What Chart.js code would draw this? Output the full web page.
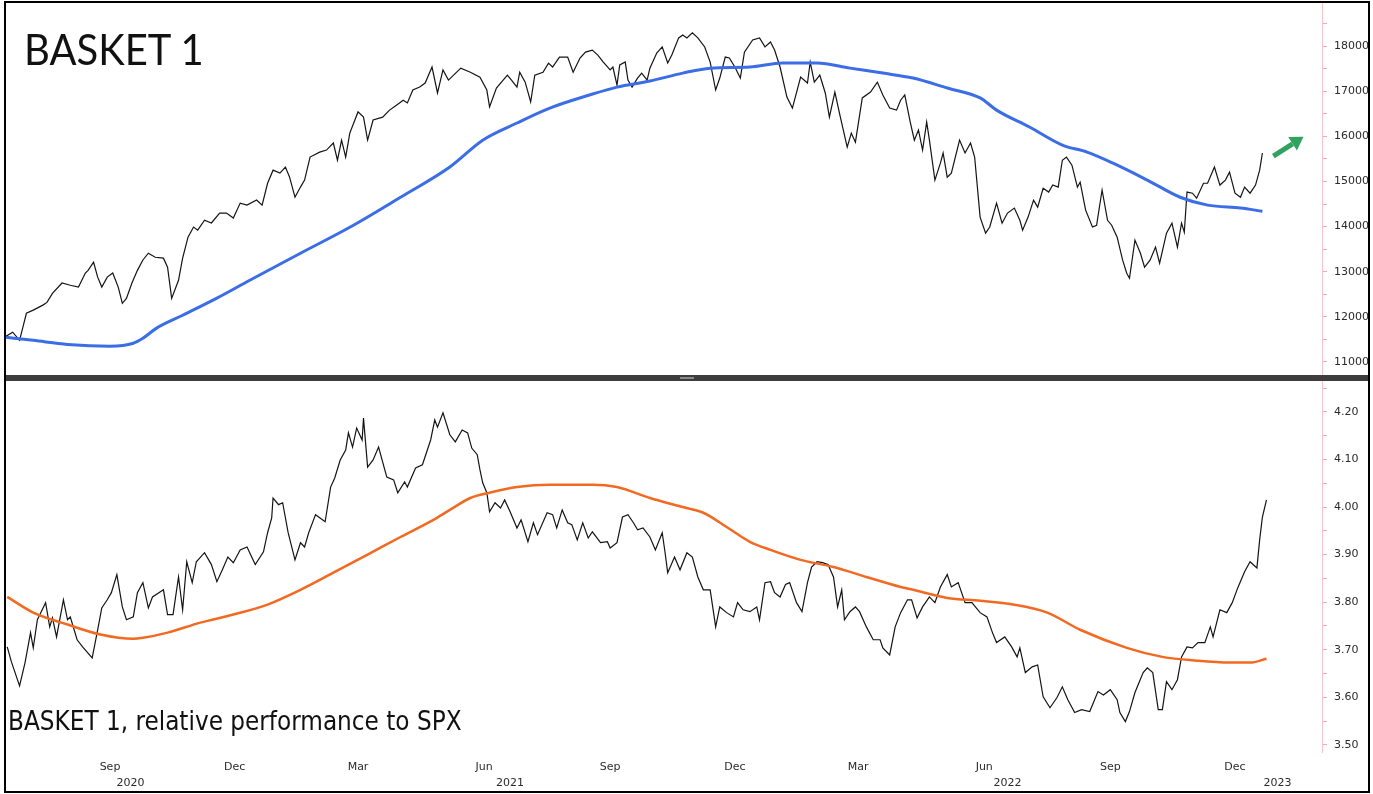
<!DOCTYPE html>
<html>
<head>
<meta charset="utf-8">
<script src="https://cdn.jsdelivr.net/npm/chart.js@4.4.1/dist/chart.umd.min.js"></script>
<style>
  html, body { margin: 0; padding: 0; background: #fff; }
  body { position: relative; width: 1373px; height: 794px; overflow: hidden; }
  .frame { position: absolute; left: 4px; top: 1px; width: 1362px; height: 788px; border: 2px solid #000; }
  .pane { position: absolute; left: 6px; width: 1362px; }
  #topPane { top: 3px; height: 372px; }
  #botPane { top: 381px; height: 410px; }
  .split { position: absolute; left: 6px; top: 375px; width: 1362px; height: 6px; background: #3d3d3d; }
  .grip { position: absolute; left: 680px; top: 377px; width: 14px; height: 2px; background: #8a8a8a; }
  .title { position: absolute; left: 24px; top: 23px; font-family: Lato, "Open Sans", sans-serif; font-size: 43px; color: #111; white-space: nowrap; transform: scaleX(0.93); transform-origin: left top; }
  .note { position: absolute; left: 8px; top: 706px; font-family: "DejaVu Sans Condensed", "DejaVu Sans", sans-serif; font-size: 25.8px; color: #111; white-space: nowrap; }
</style>
</head>
<body>
<div class="frame"></div>
<div class="pane" id="topPane"><canvas id="chart-top"></canvas></div>
<div class="split"></div>
<div class="grip"></div>
<div class="pane" id="botPane"><canvas id="chart-bottom"></canvas></div>
<div class="title">BASKET 1</div>
<div class="note">BASKET 1, relative performance to SPX</div>
<script>
// x values are days since 2020-09-01
const basketDays = [-77,-71,-66,-61,-56,-49,-46,-42,-35,-29,-23,-18,-16,-12,-9,-6,-2,2,6,9,12,16,20,24,28,33,39,42,45,50,53,57,61,64,69,74,80,85,90,95,100,107,111,115,119,124,128,131,135,139,142,146,153,158,163,166,169,172,175,181,185,188,192,199,204,209,214,217,221,226,230,235,239,243,247,256,263,270,275,277,282,290,293,297,299,303,307,310,316,320,323,328,334,338,343,347,352,356,360,365,367,370,372,376,378,381,385,388,392,394,399,403,407,410,415,418,421,425,429,434,438,442,445,449,452,456,460,463,469,474,478,482,485,489,494,498,504,509,511,514,518,522,525,529,533,538,541,544,549,555,560,564,569,574,577,580,584,587,590,593,596,598,602,606,608,611,614,620,624,628,631,635,639,642,647,651,655,660,664,666,670,674,677,681,685,688,692,695,698,702,706,708,712,717,720,724,728,731,735,739,742,744,748,752,755,759,763,766,771,775,779,782,784,786,790,793,798,801,806,810,814,817,821,825,828,832,836,839,841];
const basketValues = [11550,11660,11480,12080,12150,12260,12320,12520,12750,12700,12660,12970,13030,13210,12880,12660,12880,12970,12660,12300,12410,12750,13030,13260,13410,13320,13300,13100,12410,12810,13300,13770,13990,13920,14140,14080,14300,14300,14190,14520,14475,14590,14475,14960,15250,15185,15320,15100,14650,14875,15030,15540,15650,15695,15850,15470,15915,15540,16070,16540,16425,15915,16360,16425,16580,16690,16800,16740,17025,17090,17180,17535,16960,17470,17245,17510,17420,17310,17025,16650,17070,17355,17245,17090,17420,17200,16760,17355,17420,17620,17535,17755,17755,17420,17735,17865,17910,17800,17645,17470,17535,17135,17580,17645,17245,17090,17290,17400,17245,17510,17845,17980,17625,17800,18180,18245,18180,18290,18180,17980,17645,17025,17290,17755,17735,17535,17290,17865,18135,18180,17980,18090,17910,17535,16870,16625,17310,17180,17645,17200,17355,16960,16425,16980,16425,15760,16070,15870,16850,16980,17200,16915,16625,16580,16800,16915,16315,15915,16140,15695,16315,15915,15030,15405,15630,15095,15185,15915,15630,15850,15540,14210,13855,13990,14520,14075,14300,14410,14140,13920,14210,14585,14430,14850,14765,14920,14875,15470,15540,15360,14875,14985,14365,13990,14030,14810,14140,14030,13765,13255,12965,12855,13700,13410,13100,13255,13545,13190,13855,14075,13545,14075,13875,14765,14740,14630,14960,14960,15320,14920,15030,15205,14740,14650,14875,14740,14920,15250,15630];

const basketMaDays = [-77,-56,-31,0,17,24,34,53,78,102,139,175,212,248,272,297,321,350,370,394,418,438,467,491,516,540,564,586,611,635,647,671,695,713,732,757,781,801,825,841];
const basketMaValues = [11550,11480,11390,11350,11415,11525,11750,12035,12415,12810,13410,13985,14650,15320,15915,16295,16625,16915,17090,17225,17400,17510,17535,17625,17625,17510,17400,17290,17070,16850,16580,16205,15805,15650,15405,15030,14650,14475,14410,14340];

const relDays = [-75,-72,-66,-62,-58,-56,-53,-47,-44,-42,-39,-34,-31,-29,-24,-20,-13,-9,-6,-2,1,5,9,12,17,20,24,28,31,39,42,46,50,53,56,60,63,69,74,78,82,86,90,95,100,106,112,115,118,119,123,126,130,135,139,142,145,150,157,161,164,168,172,174,177,180,184,185,188,192,196,202,207,210,215,217,223,228,234,237,239,243,248,252,257,261,264,268,270,272,275,277,281,285,288,292,297,300,305,309,312,319,323,326,330,334,337,341,345,349,352,358,363,365,370,374,378,382,385,389,394,398,403,405,407,412,416,421,425,429,433,438,442,445,450,455,458,462,467,472,474,478,482,485,489,493,496,501,505,509,512,516,520,524,528,531,534,536,540,544,547,552,557,562,564,569,573,577,582,585,589,593,598,602,606,611,614,619,624,629,635,640,644,647,653,658,662,664,668,673,677,681,686,691,695,699,704,709,715,721,725,730,735,737,741,744,748,754,757,761,765,768,771,775,779,782,786,790,794,799,803,805,810,815,819,823,828,832,837,839,841,844];
const relValues = [3.706,3.675,3.624,3.673,3.736,3.704,3.763,3.799,3.748,3.767,3.727,3.805,3.763,3.769,3.721,3.706,3.683,3.742,3.788,3.805,3.820,3.858,3.790,3.763,3.769,3.820,3.841,3.788,3.811,3.826,3.774,3.774,3.853,3.784,3.885,3.841,3.885,3.904,3.879,3.843,3.868,3.895,3.883,3.910,3.916,3.879,3.906,3.946,3.977,4.019,4.005,4.009,3.946,3.889,3.925,3.916,3.946,3.984,3.969,4.042,4.061,4.099,4.120,4.156,4.126,4.166,4.141,4.187,4.084,4.099,4.126,4.063,4.057,4.030,4.053,4.042,4.082,4.089,4.141,4.183,4.168,4.198,4.152,4.137,4.162,4.156,4.124,4.110,4.078,4.051,4.030,3.990,4.009,3.998,4.015,3.990,3.956,3.973,3.927,3.967,3.942,3.988,3.984,3.956,3.994,3.967,3.963,3.931,3.967,3.935,3.948,3.925,3.927,3.914,3.925,3.979,3.984,3.967,3.952,3.956,3.937,3.910,3.946,3.906,3.862,3.895,3.868,3.904,3.895,3.853,3.826,3.826,3.748,3.790,3.778,3.769,3.799,3.784,3.780,3.790,3.763,3.841,3.843,3.820,3.811,3.837,3.841,3.799,3.780,3.841,3.874,3.885,3.883,3.879,3.853,3.790,3.826,3.763,3.780,3.790,3.780,3.748,3.721,3.721,3.704,3.689,3.748,3.778,3.805,3.805,3.767,3.790,3.811,3.799,3.832,3.858,3.832,3.841,3.799,3.799,3.778,3.769,3.736,3.715,3.727,3.706,3.685,3.704,3.652,3.664,3.668,3.601,3.578,3.599,3.622,3.595,3.568,3.574,3.570,3.612,3.605,3.616,3.595,3.568,3.549,3.570,3.610,3.652,3.662,3.652,3.574,3.574,3.633,3.616,3.637,3.685,3.706,3.704,3.715,3.715,3.748,3.727,3.784,3.778,3.799,3.830,3.864,3.885,3.872,3.931,3.979,4.015];

const relMaDays = [-75,-56,-31,-7,17,24,42,66,90,115,139,163,188,212,236,248,263,277,297,321,352,370,394,418,433,450,467,482,504,528,552,577,586,611,635,659,684,708,742,768,793,817,832,844];
const relMaValues = [3.811,3.778,3.753,3.732,3.723,3.725,3.736,3.757,3.774,3.795,3.826,3.862,3.900,3.937,3.973,3.994,4.019,4.030,4.042,4.047,4.047,4.042,4.019,4.000,3.988,3.958,3.927,3.910,3.889,3.874,3.853,3.832,3.826,3.809,3.803,3.795,3.778,3.742,3.704,3.685,3.677,3.673,3.673,3.681];

const monthTickDays = [0, 91, 181, 273, 365, 456, 546, 638, 730, 821];
const monthLabels = ['Sep', 'Dec', 'Mar', 'Jun', 'Sep', 'Dec', 'Mar', 'Jun', 'Sep', 'Dec'];
const yearTickDays = [15, 292, 655, 852];
const yearLabels = ['2020', '2021', '2022', '2023'];

const basketMajorTicks = [11000, 12000, 13000, 14000, 15000, 16000, 17000, 18000];
const basketMinorTicks = [11500, 12500, 13500, 14500, 15500, 16500, 17500, 18500];
const relMajorTicks = [3.5, 3.6, 3.7, 3.8, 3.9, 4.0, 4.1, 4.2];
const relMinorTicks = [3.55, 3.65, 3.75, 3.85, 3.95, 4.05, 4.15, 4.25];

// green "breakout" arrow, in data units of the top pane
const arrowFrom = [849, 15560];
const arrowTo = [871, 15990];

const X_MIN = -75.9, X_MAX = 884.5;
const AXIS_FONT = { family: "'DejaVu Sans', sans-serif", size: 11 };
const PINK = '#f4c4ca';

const toPoints = (xs, ys) => xs.map((x, i) => ({ x, y: ys[i] }));

const rightAxis = (majors, minors, fmt, min, max) => ({
    position: 'right',
    min, max,
    afterBuildTicks: s => {
        s.ticks = majors.concat(minors).sort((a, b) => a - b).map(v => ({ value: v }));
    },
    afterFit: s => {
        s.width = 46;
        s.paddingTop = 0;
        s.paddingBottom = 0;
    },
    grid: { drawOnChartArea: false, tickLength: 5, tickColor: '#f1a9b2', tickWidth: 1 },
    border: { display: true, color: PINK, width: 1 },
    ticks: {
        autoSkip: false, padding: 7, color: '#2b2b2b', font: AXIS_FONT,
        callback: v => majors.includes(v) ? fmt(v) : ''
    }
});

const bottomAxis = (days, labels, height, pad, weight) => ({
    type: 'linear', position: 'bottom', min: X_MIN, max: X_MAX, weight,
    afterBuildTicks: s => { s.ticks = days.map(v => ({ value: v })); },
    afterFit: s => {
        s.height = height;
        s.paddingLeft = 0;
        s.paddingRight = 0;
    },
    grid: { display: false, drawTicks: false },
    border: { display: false },
    ticks: {
        autoSkip: false, maxRotation: 0, padding: pad, color: '#2b2b2b', font: AXIS_FONT,
        callback: (v, i) => labels[i]
    }
});

const arrowPlugin = {
    id: 'breakoutArrow',
    afterDraw(chart) {
        const { ctx, scales: { x, y } } = chart;
        const x0 = x.getPixelForValue(arrowFrom[0]), y0 = y.getPixelForValue(arrowFrom[1]);
        const x1 = x.getPixelForValue(arrowTo[0]), y1 = y.getPixelForValue(arrowTo[1]);
        const ang = Math.atan2(y1 - y0, x1 - x0);
        const head = 13;
        const bx = x1 - Math.cos(ang) * head, by = y1 - Math.sin(ang) * head;
        ctx.save();
        ctx.strokeStyle = '#2fa35f';
        ctx.fillStyle = '#2fa35f';
        ctx.lineWidth = 5;
        ctx.beginPath();
        ctx.moveTo(x0, y0);
        ctx.lineTo(bx, by);
        ctx.stroke();
        ctx.beginPath();
        ctx.moveTo(x1, y1);
        ctx.lineTo(bx + Math.cos(ang + Math.PI / 2) * 8, by + Math.sin(ang + Math.PI / 2) * 8);
        ctx.lineTo(bx + Math.cos(ang - Math.PI / 2) * 8, by + Math.sin(ang - Math.PI / 2) * 8);
        ctx.closePath();
        ctx.fill();
        ctx.restore();
    }
};

const common = {
    responsive: true,
    maintainAspectRatio: false,
    animation: false,
    layout: { padding: 0 },
    plugins: { legend: { display: false }, tooltip: { enabled: false } },
    elements: { point: { radius: 0 } }
};

new Chart(document.getElementById('chart-top'), {
    type: 'line',
    data: {
        datasets: [
            { data: toPoints(basketMaDays, basketMaValues), borderColor: '#3b6de6', borderWidth: 3, cubicInterpolationMode: 'monotone' },
            { data: toPoints(basketDays, basketValues), borderColor: '#141414', borderWidth: 1.2, tension: 0 }
        ]
    },
    options: {
        ...common,
        scales: {
            x: { type: 'linear', display: false, min: X_MIN, max: X_MAX },
            y: rightAxis(basketMajorTicks, basketMinorTicks, v => String(v), 10712, 18953)
        }
    },
    plugins: [arrowPlugin]
});

new Chart(document.getElementById('chart-bottom'), {
    type: 'line',
    data: {
        datasets: [
            { data: toPoints(relMaDays, relMaValues), borderColor: '#f26a22', borderWidth: 2.5, cubicInterpolationMode: 'monotone' },
            { data: toPoints(relDays, relValues), borderColor: '#141414', borderWidth: 1.2, tension: 0 }
        ]
    },
    options: {
        ...common,
        scales: {
            x: bottomAxis(monthTickDays, monthLabels, 22, 9, 0),
            x2: bottomAxis(yearTickDays, yearLabels, 17, 3, 1),
            y: rightAxis(relMajorTicks, relMinorTicks, v => v.toFixed(2), 3.485, 4.265)
        }
    }
});
</script>
</body>
</html>
